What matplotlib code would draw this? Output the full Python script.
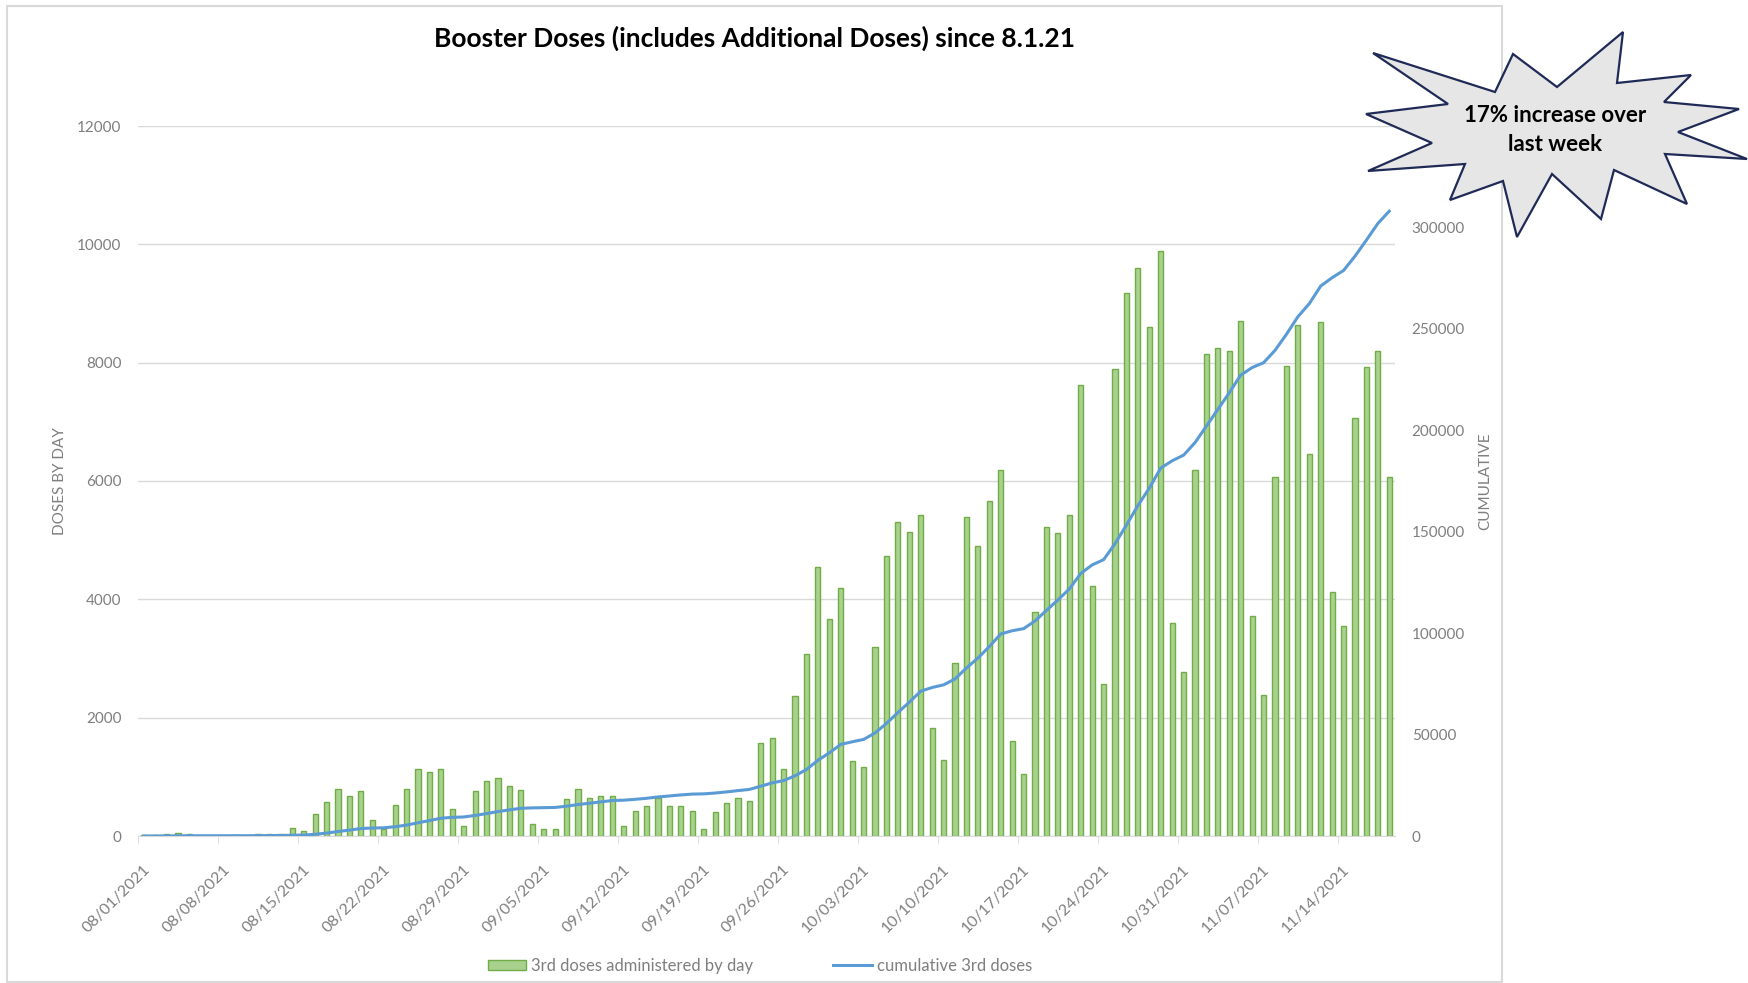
import numpy as np
import matplotlib.pyplot as plt
import matplotlib.transforms as mtransforms
from matplotlib.patches import Polygon, Rectangle, Patch
from matplotlib.lines import Line2D

plt.rcParams['font.family'] = ['Lato', 'DejaVu Sans']

# daily 3rd doses, one value per day from 08/01/2021 to 11/18/2021
daily_doses = [
    10, 10, 30, 50, 30, 0, 0, 0, 20, 0, 40, 30, 30, 130,
    90, 380, 580, 790, 680, 760, 270, 110, 530, 800, 1140, 1090,
    1140, 460, 170, 760, 930, 980, 850, 770, 200, 110, 110, 620,
    800, 650, 670, 670, 170, 420, 510, 650, 500, 500, 420, 110,
    400, 560, 640, 590, 1580, 1650, 1140, 2370, 3080, 4540, 3660,
    4190, 1270, 1170, 3190, 4740, 5300, 5130, 5420, 1830, 1290,
    2930, 5390, 4900, 5660, 6190, 1600, 1040, 3790, 5220, 5120,
    5430, 7630, 4230, 2570, 7900, 9180, 9600, 8600, 9880, 3600,
    2770, 6190, 8150, 8240, 8200, 8700, 3710, 2390, 6070, 7940,
    8640, 6460, 8690, 4120, 3550, 7060, 7920, 8190, 6070,
]

# running total
cumulative_doses = [
    10, 20, 50, 100, 130, 130, 130, 130, 150, 150, 190, 220, 250, 380,
    470, 850, 1430, 2220, 2900, 3660, 3930, 4040, 4570, 5370, 6510, 7600,
    8740, 9200, 9370, 10130, 11060, 12040, 12890, 13660, 13860, 13970,
    14080, 14700, 15500, 16150, 16820, 17490, 17660, 18080, 18590, 19240,
    19740, 20240, 20660, 20770, 21170, 21730, 22370, 22960, 24540, 26190,
    27330, 29700, 32780, 37320, 40980, 45170, 46440, 47610, 50800, 55540,
    60840, 65970, 71390, 73220, 74510, 77440, 82830, 87730, 93390, 99580,
    101180, 102220, 106010, 111230, 116350, 121780, 129410, 133640, 136210,
    144110, 153290, 162890, 171490, 181370, 184970, 187740, 193930, 202080,
    210320, 218520, 227220, 230930, 233320, 239390, 247330, 255970, 262430,
    271120, 275240, 278790, 285850, 293770, 301960, 308030,
]

tick_labels = [
    '08/01/2021', '08/08/2021', '08/15/2021', '08/22/2021', '08/29/2021',
    '09/05/2021', '09/12/2021', '09/19/2021', '09/26/2021', '10/03/2021',
    '10/10/2021', '10/17/2021', '10/24/2021', '10/31/2021', '11/07/2021',
    '11/14/2021',
]

W, H = 1748, 983
GRID = '#d9d9d9'
GREY = '#7f7f7f'
BAR_FILL = '#a9d18e'
BAR_EDGE = '#70ad47'
LINE = '#5b9bd5'

fig = plt.figure(figsize=(W / 100, H / 100), dpi=100)

# chart border
fig.add_artist(Rectangle((7 / W, 1 - 982 / H), (1502 - 7) / W, (982 - 6) / H,
                         transform=fig.transFigure, fill=False,
                         edgecolor=GRID, lw=1.5, zorder=0))

ax = fig.add_axes([138 / W, 1 - 836 / H, (1395 - 138) / W, (836 - 126) / H])
x = np.arange(len(daily_doses))
ax.bar(x, daily_doses, width=0.45, color=BAR_FILL, edgecolor=BAR_EDGE,
       linewidth=1.0, zorder=2)
ax.set_xlim(-0.5, len(daily_doses) - 0.5)
ax.set_ylim(0, 12000)
ax.set_yticks(range(0, 12001, 2000))
ax.yaxis.grid(True, color=GRID, lw=1.0)
ax.set_axisbelow(True)
for s in ['top', 'left', 'right']:
    ax.spines[s].set_visible(False)
ax.spines['bottom'].set_color(GRID)
ax.tick_params(axis='y', length=0, pad=12, labelsize=11, labelcolor=GREY)

# x ticks: labels on weekly dates, little tick marks between categories
tick_pos = [7 * k for k in range(len(tick_labels))]
ax.set_xticks(tick_pos)
ax.set_xticklabels(tick_labels, rotation=45, ha='right', va='top',
                   rotation_mode='anchor')
ax.set_xticks([p - 0.5 for p in tick_pos], minor=True)
ax.tick_params(axis='x', which='major', length=0, pad=19, labelsize=11.5,
               labelcolor=GREY)
ax.tick_params(axis='x', which='minor', length=5, color=GRID)
shift = mtransforms.ScaledTranslation(-1 / 100, 0, fig.dpi_scale_trans)
for lab in ax.get_xticklabels():
    lab.set_transform(lab.get_transform() + shift)

ax.set_ylabel('DOSES BY DAY', color=GREY, fontsize=11)
ax.yaxis.set_label_coords((67 - 138) / 1257, 0.5)

ax2 = ax.twinx()
ax2.plot(x, cumulative_doses, color=LINE, lw=2.2, zorder=3)
ax2.set_ylim(0, 350000)
ax2.set_yticks(range(0, 350001, 50000))
for s in ax2.spines.values():
    s.set_visible(False)
ax2.tick_params(axis='y', length=0, pad=12, labelsize=11, labelcolor=GREY)
ax2.set_ylabel('CUMULATIVE', color=GREY, fontsize=11)
ax2.yaxis.set_label_coords((1478 - 138) / 1257, 0.5)

fig.text(755 / W, 1 - 38 / H,
         'Booster Doses (includes Additional Doses) since 8.1.21',
         ha='center', va='center', fontsize=19, fontweight='bold')

handles = [Patch(facecolor=BAR_FILL, edgecolor=BAR_EDGE),
           Line2D([], [], color=LINE, lw=2.2)]
fig.legend(handles, ['3rd doses administered by day', 'cumulative 3rd doses'],
           loc='center', bbox_to_anchor=(760 / W, 1 - 966 / H), ncol=2,
           frameon=False, fontsize=12, labelcolor=GREY, handlelength=2.3,
           handleheight=0.6, handletextpad=0.3, columnspacing=4.8)

# callout starburst
burst = [
    (1373, 53), (1495, 92), (1513, 54), (1557, 87), (1623, 32), (1617, 83),
    (1691, 75), (1664, 102), (1739, 109), (1678, 132), (1747, 159),
    (1665, 154), (1687, 204), (1614, 170), (1601, 219), (1552, 174),
    (1517, 237), (1503, 181), (1450, 200), (1465, 164), (1368, 171),
    (1432, 143), (1366, 114), (1448, 104),
]
fig.add_artist(Polygon([(px / W, 1 - py / H) for px, py in burst], closed=True,
                       transform=fig.transFigure, facecolor='#e7e6e6',
                       edgecolor='#1f2a56', lw=1.6, zorder=5))
fig.text(1555 / W, 1 - 130 / H, '17% increase over\nlast week', ha='center',
         va='center', fontsize=16, fontweight='bold', linespacing=1.5,
         zorder=6)

fig.savefig('out.png', dpi=100)
